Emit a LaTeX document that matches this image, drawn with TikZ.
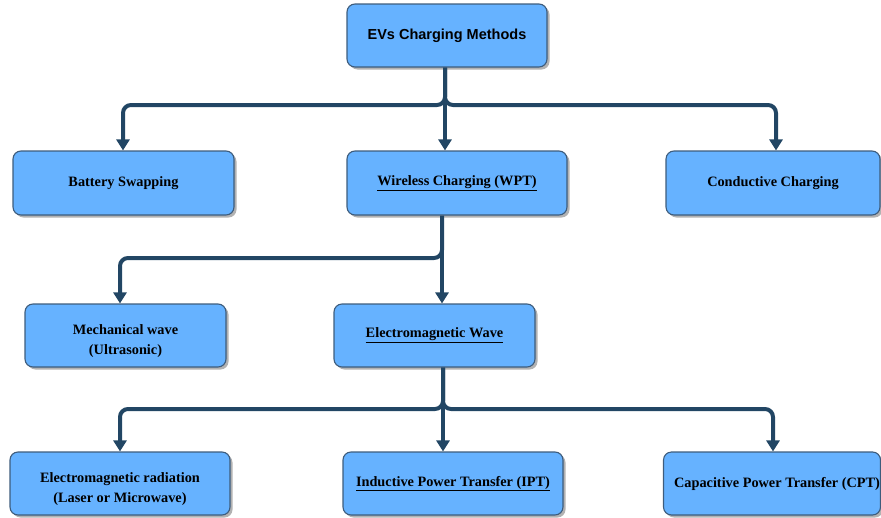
\documentclass[tikz,border=0pt]{standalone}
\usepackage{fontspec}
\setmainfont{Liberation Serif}
\newfontfamily\bodyfont{Liberation Serif}
\newfontfamily\headfont{Liberation Sans}
\usetikzlibrary{arrows.meta,shadows}
\definecolor{boxfill}{RGB}{102,178,255}
\definecolor{boxline}{RGB}{62,92,124}
\definecolor{wire}{RGB}{34,70,100}
% taller first line, pushes a two-line label a little lower in its box
\newcommand{\lowstrut}{\rule{0pt}{20.5pt}}
\begin{document}
\begin{tikzpicture}[x=1pt,y=-1pt,
  box/.style={draw=boxline, line width=1.1pt, fill=boxfill, rounded corners=8pt,
    drop shadow={shadow xshift=2.5pt, shadow yshift=-2.5pt, fill=black, opacity=0.3},
    font=\bodyfont\bfseries\fontsize{14.3}{20}\selectfont, align=center, inner sep=0pt},
  headbox/.style={box, font=\headfont\bfseries\fontsize{14.5}{18}\selectfont},
  link/.style={draw=wire, line width=4pt, rounded corners=8pt,
    -{Triangle[width=13pt,length=11pt]}}]
\useasboundingbox (0,0) rectangle (881,517);

% level 0
\node[headbox, minimum width=200pt, minimum height=63pt] (top) at (447,35.5) {EVs Charging Methods};

% level 1
\node[box, minimum width=221pt, minimum height=64pt] (bat) at (123.5,183) {Battery Swapping};
\node[box, minimum width=220pt, minimum height=64pt] (wpt) at (457,183) {\underline{Wireless Charging (WPT)}};
\node[box, minimum width=214pt, minimum height=64pt] (cond) at (773,183) {Conductive Charging};

% level 2
\node[box, minimum width=201pt, minimum height=63pt] (mech) at (125.5,335.5) {\lowstrut Mechanical wave\\(Ultrasonic)};
\node[box, minimum width=201pt, minimum height=63pt] (emw) at (434.5,335.5) {\underline{Electromagnetic Wave}};

% level 3
\node[box, minimum width=220pt, minimum height=63pt] (emr) at (120,483.5) {\lowstrut Electromagnetic radiation\\(Laser or Microwave)};
\node[box, minimum width=220pt, minimum height=63pt] (ipt) at (453,483.5) {\underline{Inductive Power Transfer (IPT)}};
\node[box, minimum width=217pt, minimum height=63pt] (cpt) at (772,483.5) {\hspace*{10pt}Capacitive Power Transfer (CPT)};

% branching points
\coordinate (j1) at (445,105);
\coordinate (j2) at (442,258);
\coordinate (j3) at (443,409);

% connectors from the root
\draw[link] (top.south -| j1) -- (j1) -| ([xshift=-0.5pt]bat.north);
\draw[link] (top.south -| j1) -- (j1) -| ([xshift=3pt]cond.north);
\draw[link] (top.south -| j1) -- (wpt.north -| j1);

% connectors from wireless charging
\draw[link] (wpt.south -| j2) -- (j2) -| ([xshift=-5.5pt]mech.north);
\draw[link] (wpt.south -| j2) -- (emw.north -| j2);

% connectors from electromagnetic wave
\draw[link] (emw.south -| j3) -- (j3) -| (emr.north);
\draw[link] (emw.south -| j3) -- (j3) -| ([xshift=1pt]cpt.north);
\draw[link] (emw.south -| j3) -- (ipt.north -| j3);
\end{tikzpicture}
\end{document}
